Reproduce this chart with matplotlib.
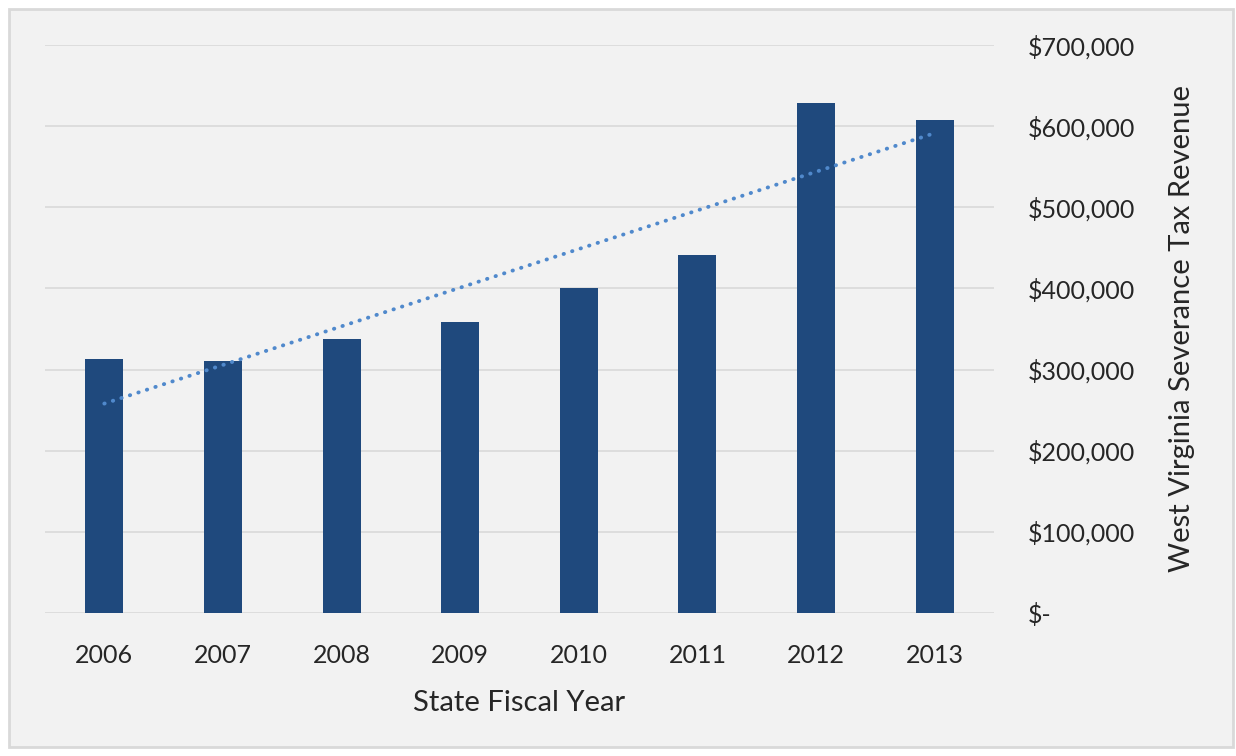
import numpy as np
import matplotlib.pyplot as plt
from matplotlib.patches import Rectangle
from matplotlib.ticker import FuncFormatter

years = ["2006", "2007", "2008", "2009", "2010", "2011", "2012", "2013"]
revenue = [313000, 311000, 338000, 359000, 400000, 441000, 628000, 608000]
y_ticks = [0, 100000, 200000, 300000, 400000, 500000, 600000, 700000]

bar_color = "#1f497d"
trend_color = "#5089cc"
grid_color = "#d9d9d9"
bg_color = "#f2f2f2"
text_color = "#262626"

plt.rcParams["font.family"] = ["Lato", "DejaVu Sans"]

fig = plt.figure(figsize=(12.36, 7.56), dpi=100)
fig.patch.set_facecolor("white")
frame = Rectangle((9 / 1236, 9 / 756), 1224 / 1236, 738 / 756,
                  transform=fig.transFigure, facecolor=bg_color,
                  edgecolor=grid_color, linewidth=2, zorder=-10)
fig.add_artist(frame)

ax = fig.add_axes([45 / 1236, 143 / 756, 949 / 1236, 568 / 756])
ax.set_facecolor("none")

x = np.arange(len(years))
ax.bar(x, revenue, width=0.32, color=bar_color, zorder=3)

# linear trendline from the data
slope, intercept = np.polyfit(x, revenue, 1)
ax.plot(x, slope * x + intercept, linestyle=(0, (0.1, 2.2)), linewidth=2.8,
        dash_capstyle="round", color=trend_color, zorder=4)

ax.set_xlim(-0.5, len(years) - 0.5)
ax.set_ylim(0, 700000)
ax.set_yticks(y_ticks)
ax.yaxis.grid(True, color=grid_color, linewidth=1.2, zorder=0)
ax.set_axisbelow(True)

for side in ["top", "right", "left", "bottom"]:
    ax.spines[side].set_visible(False)

ax.set_xticks(x)
ax.set_xticklabels(years, fontsize=18, color=text_color)
ax.tick_params(axis="x", length=0, pad=22)


def money(v, pos):
    if v == 0:
        return "$-"
    return "${:,.0f}".format(v)


ax.yaxis.set_major_formatter(FuncFormatter(money))
ax.yaxis.tick_right()
ax.tick_params(axis="y", length=0, labelsize=18, labelcolor=text_color, pad=24.5)
for lbl in ax.get_yticklabels():
    lbl.set_horizontalalignment("left")

ax.set_xlabel("State Fiscal Year", fontsize=21, color=text_color, labelpad=17)
ax.yaxis.set_label_position("right")
ax.set_ylabel("West Virginia Severance Tax Revenue", fontsize=21,
              color=text_color, labelpad=24)

fig.savefig("out.png", dpi=100, facecolor=fig.get_facecolor())
